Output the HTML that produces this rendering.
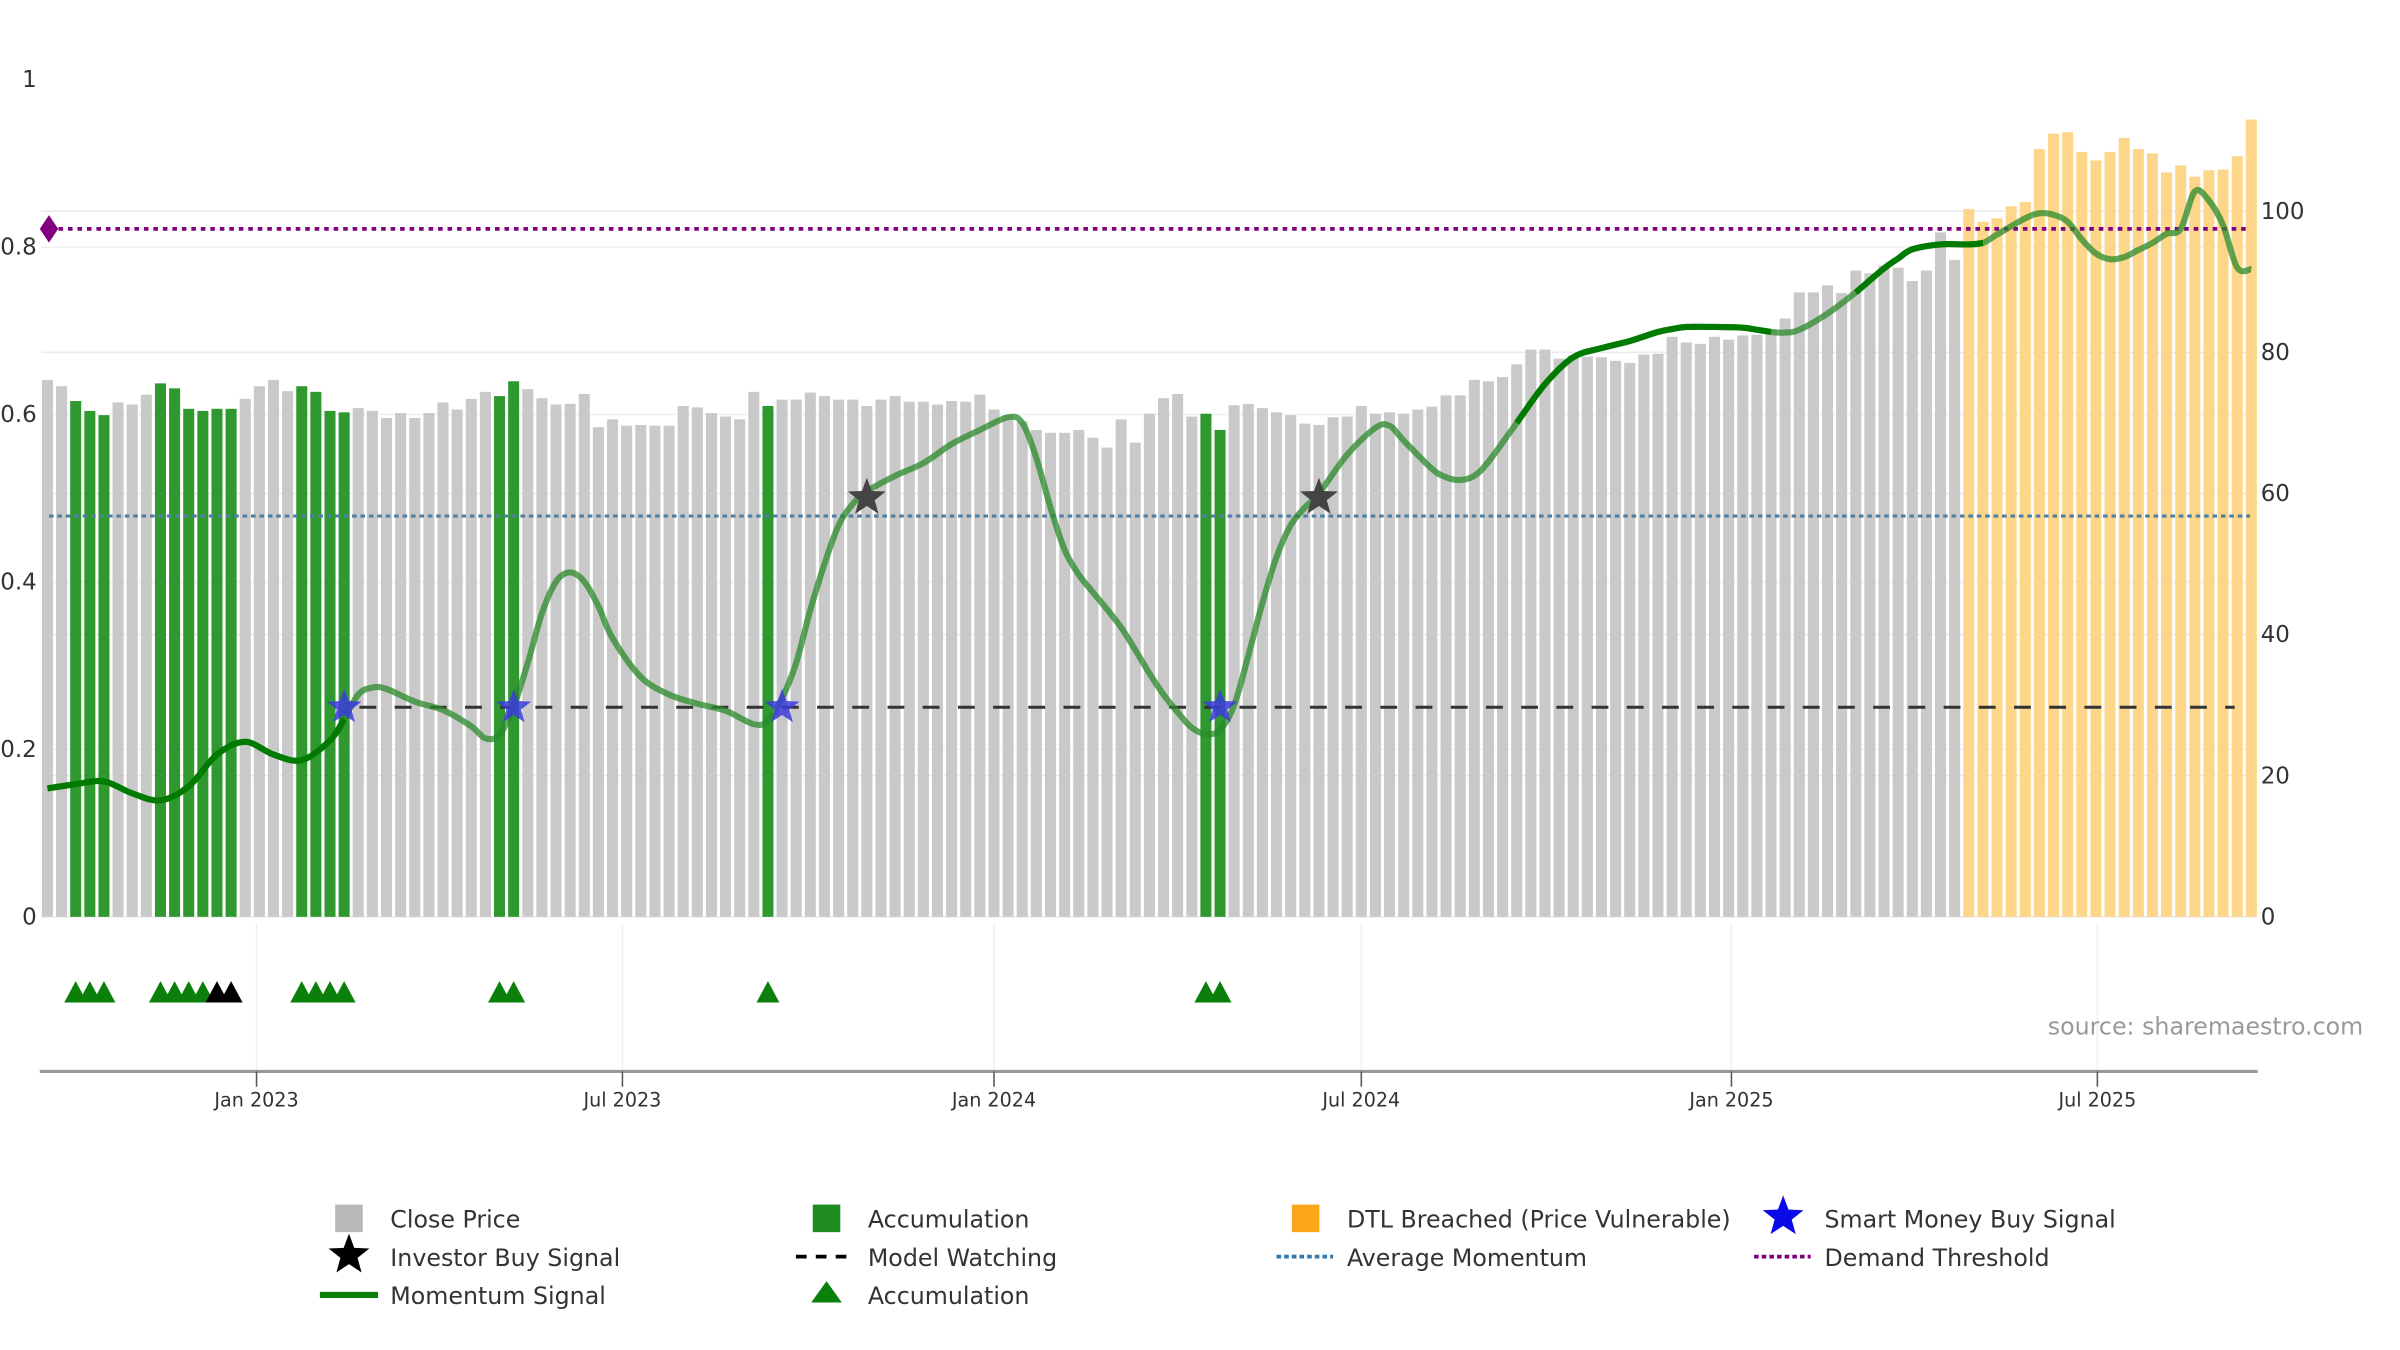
<!DOCTYPE html>
<html><head><meta charset="utf-8"><style>
html,body{margin:0;padding:0;background:#fff}
svg{display:block}
text{font-family:"DejaVu Sans","Liberation Sans",sans-serif}
</style></head><body>
<svg id="chart" width="2400" height="1350" viewBox="0 0 1568 882" preserveAspectRatio="none" xmlns="http://www.w3.org/2000/svg">
<g id="grid"></g>
<g id="bars"></g>
<g id="refs"></g>
<g id="lines"></g>
<g id="marks"></g>
<g id="axes"></g>
<text x="1544" y="676" text-anchor="end" font-size="15.5" fill="#999">source: sharemaestro.com</text>
<g id="legend"></g>
</svg>
<script>
// ---- data ----
const closePrices = [76.1,75.2,73.1,71.7,71.1,72.9,72.6,74,75.6,74.9,72,71.7,72,72,73.4,75.2,76.1,74.5,75.2,74.4,71.7,71.5,72.1,71.7,70.7,71.4,70.7,71.4,72.9,71.9,73.4,74.4,73.8,75.9,74.8,73.5,72.6,72.7,74.1,69.4,
70.5,69.6,69.7,69.6,69.6,72.4,72.2,71.4,70.9,70.5,74.4,72.4,73.3,73.3,74.3,73.8,73.3,73.3,72.4,73.3,73.8,73,73,72.6,73.1,73,74,71.9,71.1,70.2,69,68.6,68.6,69,67.9,66.5,70.5,67.2,71.3,73.5,
74.1,70.9,71.3,69,72.5,72.7,72.1,71.5,71.1,69.9,69.7,70.8,70.9,72.4,71.3,71.5,71.3,71.9,72.3,73.9,73.9,76.1,75.9,76.5,78.3,80.4,80.4,79.1,79.6,79.4,79.3,78.8,78.5,79.7,79.8,82.2,81.4,81.2,82.2,81.8,
82.4,82.5,83.2,84.8,88.5,88.5,89.5,88.4,91.6,91.2,92.3,92,90.1,91.6,97,93.1,
100.3,98.5,99,100.7,101.3,108.8,111,111.2,108.4,107.2,108.4,110.4,108.8,108.2,105.5,106.5,104.9,105.8,105.9,107.8,113];
const accumulationBars = [2,3,4,8,9,10,11,12,13,18,19,20,21,32,33,51,82,83];
const dtlStart = 136;
const momentumIdx = [0,2,4,6,8,10,12,14,16,18,20,21,22,23,24,26,28,30,31,32,33,34,35,36,37,38,39,40,42,44,46,48,50,51,52,53,54,55,56,57,58,60,62,64,66,68,69,70,71,72,73,74,76,78,79,80,81,82,83,84,85,86,87,88,89,90,92,94,95,96,98,99,100,101,102,104,106,108,110,112,114,115,116,118,120,121,122,123,124,126,128,130,131,132,134,136,137,138,140,141,142,143,144,145,146,147,148,149,150,151,152,153,154,155,156];
const momentumVal = [18.2,18.8,19.2,17.5,16.5,18.5,23,24.8,23,22.2,25,28,31.5,32.5,32.3,30.5,29.3,27,25.3,25.8,29.8,36,43,47.5,48.8,47.5,44,39.5,34,31.5,30.2,29.2,27.3,27.8,31,36,43.5,50,55.5,58.5,60.3,62.5,64.3,67,69,70.8,70,65,58,52,48.5,46,41,34.5,31.5,29,26.8,25.9,26.5,30,37,44.5,51,55.5,58,60,65.5,69.3,69.6,67.5,63.5,62.3,61.9,62.5,64.5,70,75.5,79.3,80.6,81.6,82.9,83.3,83.6,83.6,83.5,83.2,82.9,82.8,83.2,85.5,88.5,91.9,93.3,94.6,95.3,95.3,95.5,96.7,99,99.7,99.5,98.5,96,94,93.2,93.5,94.5,95.5,96.8,97.5,102.8,101.5,98,92,91.8];
const strongRanges = [[0,21],[104,122],[128,137]];
const smartMoneyIdx = [21,33,52,83];
const investorIdx = [58,90];
const investorVal = [59.4,59.4];
const accTriIdx = [2,3,4,8,9,10,11,18,19,20,21,32,33,51,82,83];
const blackTriIdx = [12,13];
const demandThreshold = 97.5;
const avgMomentum = 56.8;
const modelWatching = 29.7;
const leftTicks = [0,0.2,0.4,0.6,0.8,1];
const leftTickLabels = ["0","0.2","0.4","0.6","0.8","1"];
const rightTicks = [0,20,40,60,80,100];
const dateTickIdx = [14.8,40.7,67,93,119.2,145.1];
const dateTickLabels = ["Jan 2023","Jul 2023","Jan 2024","Jul 2024","Jan 2025","Jul 2025"];

// ---- scales ----
const NS="http://www.w3.org/2000/svg";
const xS=i=>31+i*9.23;
const yR=v=>599-v*4.61;
const yL=v=>599-v*547;
function mk(tag,attrs,parent){const e=document.createElementNS(NS,tag);for(const k in attrs)e.setAttribute(k,attrs[k]);parent.appendChild(e);return e;}
const G=id=>document.getElementById(id);

// grid
rightTicks.forEach(t=>{const l=mk('line',{x1:27,x2:1474,y1:yR(t),y2:yR(t),stroke:'#e9ebee','stroke-width':1},G('grid'));

});
leftTicks.slice(1,5).forEach(t=>{const l=mk('line',{x1:27,x2:1474,y1:yL(t),y2:yL(t),stroke:'#eef0f2','stroke-width':1},G('grid'));

});
dateTickIdx.forEach(d=>{const l=mk('line',{x1:xS(d),x2:xS(d),y1:603,y2:700,stroke:'#eef0f2','stroke-width':1},G('grid'));

});

// bars
closePrices.forEach((v,i)=>{
 let fill='#c9c9c9';let name='close-price-bar';
 if(i>=dtlStart){fill='#fed68a';name='dtl-breached-bar';}
 else if(accumulationBars.includes(i)){fill='#2f982f';name='accumulation-bar';}
 const r=mk('rect',{x:xS(i)-3.6,y:yR(v),width:7.2,height:599-yR(v),fill:fill},G('bars'));
 
 
});

// reference lines
let l1=mk('line',{x1:32,x2:1470,y1:yR(demandThreshold),y2:yR(demandThreshold),stroke:'#800080','stroke-width':2.5,'stroke-dasharray':'3,3.2'},G('refs'));


let dm=mk('path',{d:`M${32-6},${yR(demandThreshold)} L32,${yR(demandThreshold)-9} L${32+6},${yR(demandThreshold)} L32,${yR(demandThreshold)+9}Z`,fill:'#800080'},G('refs'));


let l2=mk('line',{x1:32,x2:1470,y1:yR(avgMomentum),y2:yR(avgMomentum),stroke:'#4f7fa3','stroke-width':2,'stroke-dasharray':'3,2.5'},G('refs'));


let l3=mk('line',{x1:xS(smartMoneyIdx[0])+10,x2:1460,y1:yR(modelWatching),y2:yR(modelWatching),stroke:'#333','stroke-width':2,'stroke-dasharray':'11,12'},G('refs'));



// momentum line
function smooth(pts){let d=`M${pts[0][0]},${pts[0][1]}`;for(let i=0;i<pts.length-1;i++){const p0=pts[i-1]||pts[i],p1=pts[i],p2=pts[i+1],p3=pts[i+2]||p2;
 d+=` C${p1[0]+(p2[0]-p0[0])/6},${p1[1]+(p2[1]-p0[1])/6} ${p2[0]-(p3[0]-p1[0])/6},${p2[1]-(p3[1]-p1[1])/6} ${p2[0]},${p2[1]}`;}return d;}
const pts=momentumIdx.map((k,j)=>[xS(k),yR(momentumVal[j])]);
let ml=mk('path',{d:smooth(pts),fill:'none',stroke:'#2a8a2a','stroke-opacity':0.75,'stroke-width':4,'stroke-linejoin':'round'},G('lines'));


strongRanges.forEach(([a,b])=>{const sp=momentumIdx.map((k,j)=>[k,j]).filter(([k])=>k>=a&&k<=b).map(([k,j])=>[xS(k),yR(momentumVal[j])]);
 const s=mk('path',{d:smooth(sp),fill:'none',stroke:'#007a00','stroke-width':4,'stroke-linejoin':'round'},G('lines'));
 
 });

// markers
function star(cx,cy,r){let d='';for(let k=0;k<10;k++){const a=-Math.PI/2+k*Math.PI/5;const rr=k%2?r*0.42:r;d+=(k?'L':'M')+(cx+rr*Math.cos(a))+','+(cy+rr*Math.sin(a));}return d+'Z';}
smartMoneyIdx.forEach(i=>{const s=mk('path',{d:star(xS(i),yR(modelWatching),12),fill:'#3b3bdc','fill-opacity':0.85},G('marks'));
 
 });
investorIdx.forEach((i,j)=>{const s=mk('path',{d:star(xS(i),yR(investorVal[j]),13),fill:'#444'},G('marks'));
 
 });
function tri(i,c,name){const x=xS(i);const t=mk('path',{d:`M${x-7.5},655 L${x},641 L${x+7.5},655Z`,fill:c},G('marks'));
 
 }
accTriIdx.forEach(i=>tri(i,'#0a800a','accumulation-triangle'));
blackTriIdx.forEach(i=>tri(i,'#000','investor-triangle'));

// axes
const ax=G('axes');
leftTicks.forEach((t,j)=>{const e=mk('text',{x:24,y:yL(t)+5,'text-anchor':'end','font-size':15,fill:'#333'},ax);e.textContent=leftTickLabels[j];
 
 });
rightTicks.forEach(t=>{const e=mk('text',{x:1477,y:yR(t)+5,'font-size':15,fill:'#333'},ax);e.textContent=t;
 
 });
let xl=mk('line',{x1:26,x2:1475,y1:700,y2:700,stroke:'#999','stroke-width':2},ax);


dateTickIdx.forEach((d,j)=>{const t=mk('line',{x1:xS(d),x2:xS(d),y1:700,y2:710,stroke:'#555','stroke-width':1},ax);
 
 
 const e=mk('text',{x:xS(d),y:723,'text-anchor':'middle','font-size':12.5,fill:'#333'},ax);e.textContent=dateTickLabels[j];
 
 });

// legend
const lg=G('legend');
const leg=[[228,796,'sq','#b8b8b8','Close Price'],[540,796,'sq','#1f8c1f','Accumulation'],[853,796,'sq','#fca61c','DTL Breached (Price Vulnerable)'],[1165,796,'star','#0b0bea','Smart Money Buy Signal'],
[228,821,'star','#000','Investor Buy Signal'],[540,821,'dash','#000','Model Watching'],[853,821,'dot','#2f78b0','Average Momentum'],[1165,821,'dot','#800080','Demand Threshold'],
[228,846,'line','#0a800a','Momentum Signal'],[540,846,'tri','#0a800a','Accumulation']];
leg.forEach(([x,y,t,c,label])=>{
 let s;
 if(t==='sq')s=mk('rect',{x:x-9,y:y-9,width:18,height:18,fill:c},lg);
 else if(t==='star')s=mk('path',{d:star(x,y-1,14),fill:c},lg);
 else if(t==='dash')s=mk('line',{x1:x-20,x2:x+18,y1:y,y2:y,stroke:c,'stroke-width':2.5,'stroke-dasharray':'7,6'},lg);
 else if(t==='dot')s=mk('line',{x1:x-19,x2:x+18,y1:y,y2:y,stroke:c,'stroke-width':2.5,'stroke-dasharray':'3,2'},lg);
 else if(t==='line')s=mk('line',{x1:x-19,x2:x+19,y1:y,y2:y,stroke:c,'stroke-width':4},lg);
 else s=mk('path',{d:`M${x-10},${y+5} L${x},${y-9} L${x+10},${y+5}Z`,fill:c},lg);
 
 
 const e=mk('text',{x:x+27,y:y+6,'font-size':15.5,fill:'#333'},lg);e.textContent=label;
 
 
});
</script>
</body></html>
